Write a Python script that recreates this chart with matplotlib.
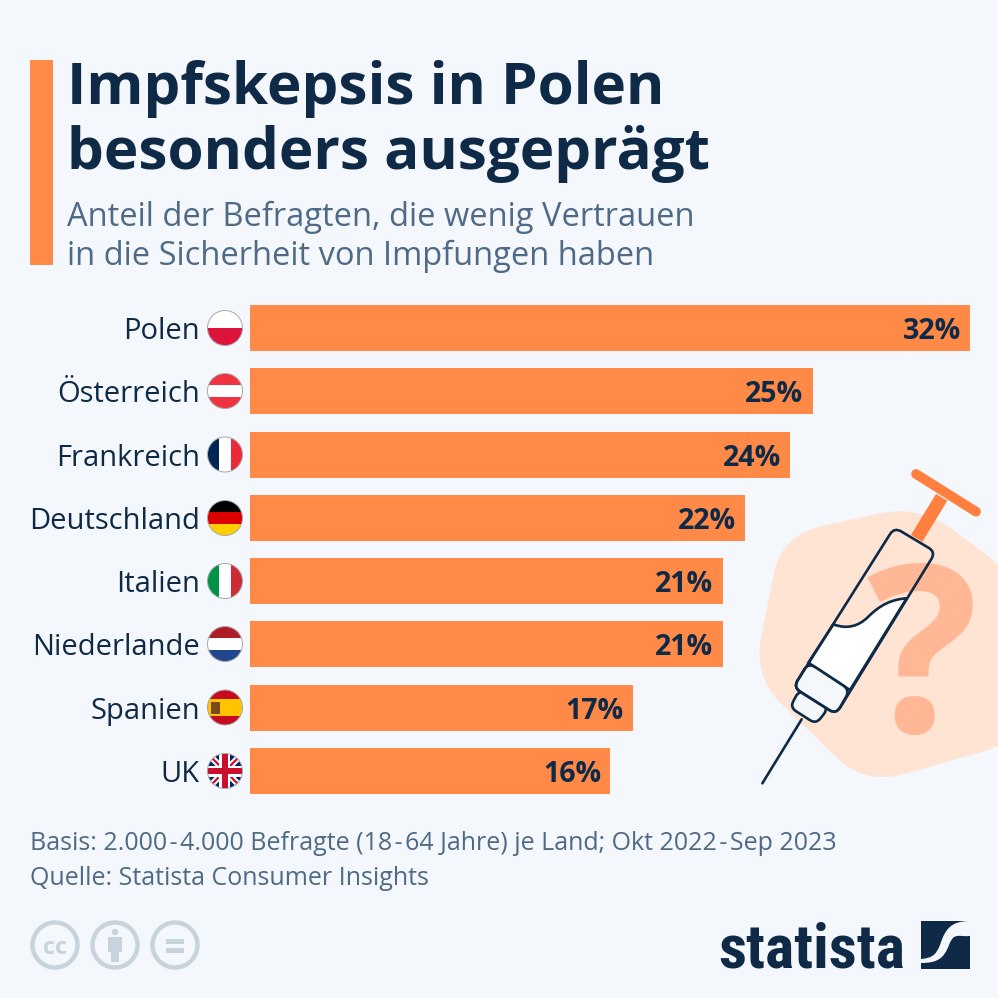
"""Impfskepsis bar chart, Statista style infographic."""

import matplotlib
matplotlib.use("Agg")
import matplotlib.pyplot as plt
from matplotlib.patches import Circle, PathPatch, Rectangle
from matplotlib.path import Path

countries = ["Polen", "Österreich", "Frankreich", "Deutschland",
             "Italien", "Niederlande", "Spanien", "UK"]
shares = [32, 25, 24, 22, 21, 21, 17, 16]

BG = "#f4f7fb"
NAVY = "#0f2a47"
SLATE = "#4e6a86"
ORANGE = "#ff8a47"
GREY = "#c8d4dd"

plt.rcParams["font.family"] = ["Open Sans", "DejaVu Sans"]

fig = plt.figure(figsize=(9.98, 9.98), dpi=100, facecolor=BG)

# pixel canvas for everything that is not the bars
ax = fig.add_axes([0, 0, 1, 1])
ax.set_xlim(0, 998)
ax.set_ylim(998, 0)
ax.set_axis_off()


def rounded(pts, r):
    """Closed path through pts with corners rounded by radius r."""
    verts, codes = [], []
    n = len(pts)
    for i in range(n):
        px, py = pts[i - 1]
        cx, cy = pts[i]
        nx, ny = pts[(i + 1) % n]
        d1 = ((cx - px) ** 2 + (cy - py) ** 2) ** 0.5
        d2 = ((nx - cx) ** 2 + (ny - cy) ** 2) ** 0.5
        a = (cx + (px - cx) * r / d1, cy + (py - cy) * r / d1)
        b = (cx + (nx - cx) * r / d2, cy + (ny - cy) * r / d2)
        verts.append(a)
        codes.append(Path.MOVETO if i == 0 else Path.LINETO)
        verts += [(cx, cy), b]
        codes += [Path.CURVE3, Path.CURVE3]
    verts.append(verts[0])
    codes.append(Path.CLOSEPOLY)
    return Path(verts, codes)


def z(x, y):
    # zoomed crop coords of the syringe area to canvas pixels
    return (740 + x / 3, 460 + y / 3)


# --- header ---
ax.add_patch(Rectangle((30, 60), 23, 205, color=ORANGE, lw=0))
ax.text(67, 104, "Impfskepsis in Polen", fontsize=42, fontweight="bold",
        color=NAVY, va="baseline")
ax.text(67, 169, "besonders ausgeprägt", fontsize=42, fontweight="bold",
        color=NAVY, va="baseline")
ax.text(67, 226, "Anteil der Befragten, die wenig Vertrauen", fontsize=23.5,
        color=SLATE, va="baseline")
ax.text(67, 265, "in die Sicherheit von Impfungen haben", fontsize=23.5,
        color=SLATE, va="baseline")

# --- illustration ---
hexagon = [z(535, 135), z(830, 350), z(850, 840), z(375, 975), z(40, 650), z(125, 225)]
ax.add_patch(PathPatch(rounded(hexagon, 40), fc="#ffe3d3", ec="none", zorder=1))
ax.text(*z(545, 815), "?", fontsize=168, fontweight="bold", color="#ffb795",
        ha="center", va="baseline", zorder=2)

ax.plot(*zip(z(530, 235), z(605, 112)), color="#ff7f3f", lw=9.5, zorder=3,
        solid_capstyle="butt")
ax.plot(*zip(z(528, 42), z(708, 155)), color="#ff7f3f", lw=7, zorder=3,
        solid_capstyle="round")

liquid = Path(
    [z(280, 493), z(320, 508), z(355, 500), z(385, 470), z(420, 435), z(455, 418),
     z(500, 415), z(330, 690), z(205, 608), z(280, 493)],
    [Path.MOVETO, Path.CURVE4, Path.CURVE4, Path.CURVE4, Path.CURVE4, Path.CURVE4,
     Path.CURVE4, Path.LINETO, Path.LINETO, Path.CLOSEPOLY],
)
ax.add_patch(PathPatch(liquid, fc="white", ec=NAVY, lw=1.9, zorder=4))
tip = [z(178, 690), z(150, 742), z(228, 792), z(265, 745)]
ax.add_patch(PathPatch(rounded(tip, 7), fc=BG, ec=NAVY, lw=1.9, zorder=4))
collar = [z(205, 608), z(330, 690), z(288, 763), z(160, 682)]
ax.add_patch(PathPatch(rounded(collar, 8), fc=BG, ec=NAVY, lw=1.9, zorder=4))
barrel = [z(463, 202), z(587, 276), z(288, 763), z(160, 682)]
ax.add_patch(PathPatch(rounded(barrel, 8), fc="none", ec=NAVY, lw=1.9, zorder=5))
ax.plot(*zip(z(185, 778), z(67, 970)), color=NAVY, lw=1.9, zorder=4,
        solid_capstyle="round")

# --- bars ---
ax_bars = fig.add_axes([250 / 998, 1 - 794 / 998, 720 / 998, 489 / 998])
ax_bars.patch.set_alpha(0)
bars = ax_bars.barh(countries, shares, height=0.73, color=ORANGE)
ax_bars.set_xlim(0, 32)
ax_bars.set_ylim(7.365, -0.365)
ax_bars.tick_params(axis="y", length=0, pad=36, labelsize=21, labelcolor=NAVY)
ax_bars.tick_params(axis="x", bottom=False, labelbottom=False)
for spine in ax_bars.spines.values():
    spine.set_visible(False)
for bar, val in zip(bars, shares):
    ax_bars.annotate(f"{val}%", (val, bar.get_y() + bar.get_height() / 2),
                     xytext=(-6.5, 0), textcoords="offset points",
                     ha="right", va="center_baseline", fontsize=20.5,
                     fontweight="bold", color=NAVY)

# --- flags ---
FLAG_X, FLAG_R = 225, 17.5
flag_y = [328, 391, 454.5, 518, 581, 644, 707.5, 771]
horizontal = {
    "Polen": ["#ffffff", "#dc143c"],
    "Österreich": ["#ef3340", "#ffffff", "#ef3340"],
    "Deutschland": ["#000000", "#dd0000", "#ffce00"],
    "Niederlande": ["#ae1c28", "#ffffff", "#21468b"],
}
vertical = {
    "Frankreich": ["#002654", "#ffffff", "#ed2939"],
    "Italien": ["#009246", "#ffffff", "#ce2b37"],
}

for name, cy in zip(countries, flag_y):
    clip = Circle((FLAG_X, cy), FLAG_R, transform=ax.transData)
    left, top, d = FLAG_X - FLAG_R, cy - FLAG_R, 2 * FLAG_R
    parts = []
    if name in horizontal:
        cols = horizontal[name]
        for i, c in enumerate(cols):
            parts.append(Rectangle((left, top + i * d / len(cols)), d, d / len(cols), color=c, lw=0))
    elif name in vertical:
        cols = vertical[name]
        for i, c in enumerate(cols):
            parts.append(Rectangle((left + i * d / len(cols), top), d / len(cols), d, color=c, lw=0))
    elif name == "Spanien":
        parts.append(Rectangle((left, top), d, d, color="#c60b1e", lw=0))
        parts.append(Rectangle((left, top + d / 4), d, d / 2, color="#ffc400", lw=0))
        parts.append(Rectangle((left + 4, cy - 6), 9, 12, color="#7a4a1e", lw=0))
    else:  # UK
        parts.append(Rectangle((left, top), d, d, color="#012169", lw=0))
        for sign in (1, -1):
            for lw, c in ((4.5, "white"), (1.6, "#c8102e")):
                line, = ax.plot([left, left + d], [cy - sign * FLAG_R, cy + sign * FLAG_R],
                                color=c, lw=lw, zorder=2)
                line.set_clip_path(clip)
        for w, c in ((11, "white"), (6, "#c8102e")):
            a = Rectangle((FLAG_X - w / 2, top), w, d, color=c, lw=0, zorder=3)
            b = Rectangle((left, cy - w / 2), d, w, color=c, lw=0, zorder=3)
            parts += [a, b]
    for p in parts:
        ax.add_patch(p)
        p.set_clip_path(clip)
    ax.add_patch(Circle((FLAG_X, cy), FLAG_R, fc="none", ec="#a9a9ad", lw=0.7, zorder=4))

# --- footer ---
ax.text(30, 850, "Basis: 2.000\u200a-\u200a4.000 Befragte (18\u200a-\u200a64 Jahre) je Land; Okt 2022\u200a-\u200aSep 2023",
        fontsize=18, color=SLATE, va="baseline")
ax.text(30, 885, "Quelle: Statista Consumer Insights", fontsize=18, color=SLATE, va="baseline")

# licence icons
for cx in (55, 115, 175):
    ax.add_patch(Circle((cx, 945), 22.5, fc="none", ec=GREY, lw=3.2))
ax.text(55, 945, "cc", fontsize=17, fontweight="bold", color=GREY,
        ha="center", va="center_baseline")
ax.add_patch(Circle((115, 932), 3.2, color=GREY, lw=0))
ax.add_patch(Rectangle((108, 937), 14, 15, color=GREY, lw=0))
ax.add_patch(Rectangle((111, 950), 8, 12, color=GREY, lw=0))
ax.add_patch(Rectangle((166, 939), 18, 4.5, color=GREY, lw=0))
ax.add_patch(Rectangle((166, 948), 18, 4.5, color=GREY, lw=0))

# logo
ax.text(905, 968, "statista", fontsize=44.5, fontweight="bold", color=NAVY,
        family=["Roboto Condensed", "Liberation Sans"], ha="right", va="baseline")
ax.add_patch(Rectangle((921, 921), 49, 48, color=NAVY, lw=0))
swoosh = Path(
    [(970, 921), (950, 921), (945, 930), (940, 945), (936, 955), (932, 958), (921, 959),
     (921, 963), (938, 963), (944, 958), (949, 945), (954, 932), (958, 937), (970, 936), (970, 921)],
    [Path.MOVETO, Path.CURVE4, Path.CURVE4, Path.CURVE4, Path.CURVE4, Path.CURVE4, Path.CURVE4,
     Path.LINETO, Path.CURVE4, Path.CURVE4, Path.CURVE4, Path.CURVE4, Path.CURVE4, Path.CURVE4,
     Path.CLOSEPOLY],
)
ax.add_patch(PathPatch(swoosh, fc=BG, ec="none", zorder=3))

fig.savefig("out.png", dpi=100, facecolor=BG)
